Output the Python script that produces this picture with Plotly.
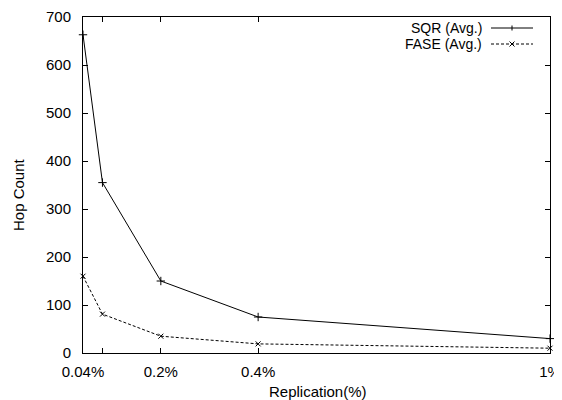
import plotly.graph_objects as go

replication = [0.04, 0.08, 0.2, 0.4, 1.0]
sqr_avg = [663, 355, 150, 75, 30]
fase_avg = [160, 81, 35, 19, 10]
x_tick_vals = [0.04, 0.08, 0.2, 0.4, 1.0]
x_tick_text = ["0.04%", "", "0.2%", "0.4%", "1%"]
y_tick_vals = [0, 100, 200, 300, 400, 500, 600, 700]

FONT = "Liberation Sans, Arial, Helvetica, sans-serif"
FS = 15

# The page body has an 8px margin, so the figure is drawn 8px smaller
OFF = 8
W, H = 562 - OFF, 400 - OFF
# plot frame in reference pixels: x 83..550, y 17..353
ml, mr, mt, mb = 83 - OFF, 562 - 550, 17 - OFF, 400 - 353
pw, ph = W - ml - mr, H - mt - mb

def px(xp):  # reference pixel -> paper fraction
    return (xp - OFF - ml) / pw
def py(yp):
    return 1 - (yp - OFF - mt) / ph

fig = go.Figure()
fig.add_trace(go.Scatter(
    x=replication, y=sqr_avg, mode="lines+markers", name="SQR (Avg.)",
    line=dict(color="black", width=1),
    marker=dict(symbol="cross-thin", size=6, line=dict(color="black", width=1)),
    cliponaxis=False, showlegend=False))
fig.add_trace(go.Scatter(
    x=replication, y=fase_avg, mode="lines+markers", name="FASE (Avg.)",
    line=dict(color="black", width=1, dash="3px,2px"),
    marker=dict(symbol="x-thin", size=5, line=dict(color="black", width=1)),
    cliponaxis=False, showlegend=False))

# gnuplot-style key: right-aligned labels, sample line to the right
key_rows = [("SQR (Avg.)", 28, None, "cross"), ("FASE (Avg.)", 44, "3px,2px", "x")]
for label, yp, dash, mk in key_rows:
    fig.add_annotation(x=px(484), y=py(yp), xref="paper", yref="paper",
                       text=label, align="right",
                       showarrow=False, xanchor="right", yanchor="middle",
                       font=dict(family=FONT, size=14, color="black"))
    fig.add_shape(type="line", xref="paper", yref="paper",
                  x0=px(491), x1=px(533), y0=py(yp), y1=py(yp),
                  line=dict(color="black", width=1, dash=dash))
    cx = 512
    if mk == "cross":
        fig.add_shape(type="line", xref="paper", yref="paper", x0=px(cx), x1=px(cx),
                      y0=py(yp - 2.5), y1=py(yp + 2.5), line=dict(color="black", width=1))
    else:
        fig.add_shape(type="line", xref="paper", yref="paper", x0=px(cx - 2.5), x1=px(cx + 2.5),
                      y0=py(yp - 2.5), y1=py(yp + 2.5), line=dict(color="black", width=1))
        fig.add_shape(type="line", xref="paper", yref="paper", x0=px(cx - 2.5), x1=px(cx + 2.5),
                      y0=py(yp + 2.5), y1=py(yp - 2.5), line=dict(color="black", width=1))

# axis titles
fig.add_annotation(x=px(318), y=py(391), xref="paper", yref="paper",
                   text="Replication(%)", showarrow=False, xanchor="center", yanchor="middle",
                   font=dict(family=FONT, size=FS, color="black"))
fig.add_annotation(x=px(18), y=py(195), xref="paper", yref="paper",
                   text="Hop Count", showarrow=False, textangle=-90,
                   xanchor="center", yanchor="middle",
                   font=dict(family=FONT, size=FS, color="black"))

fig.update_layout(
    width=W, height=H,
    margin=dict(l=ml, r=mr, t=mt, b=mb, autoexpand=False),
    paper_bgcolor="white", plot_bgcolor="white",
    font=dict(family=FONT, size=FS, color="black"),
    xaxis=dict(
        range=[0.04, 1.0], tickvals=x_tick_vals, ticktext=x_tick_text,
        ticks="inside", ticklen=5, tickcolor="black", tickwidth=1,
        showline=True, linecolor="black", linewidth=1, mirror="ticks",
        showgrid=False, zeroline=False, automargin=False,
        ticklabelstandoff=5,
    ),
    yaxis=dict(
        range=[0, 700], tickvals=y_tick_vals,
        ticks="inside", ticklen=5, tickcolor="black", tickwidth=1,
        showline=True, linecolor="black", linewidth=1, mirror="ticks",
        showgrid=False, zeroline=False, automargin=False,
        ticklabelstandoff=8,
    ),
)

fig.write_html("out.html")
